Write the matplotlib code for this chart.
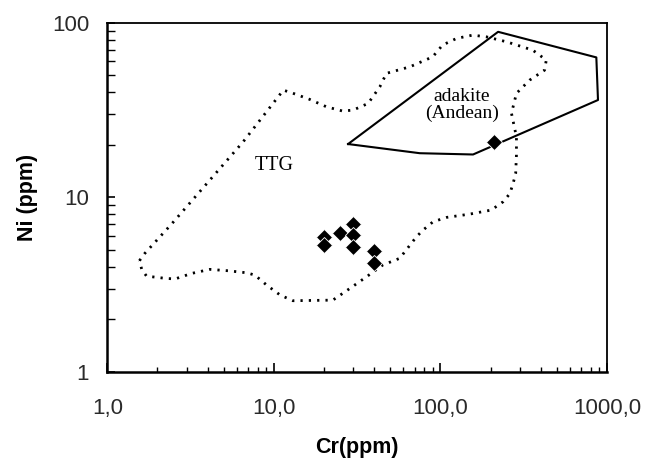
"""
Ni vs Cr discrimination diagram (TTG and Andean adakite fields).
"""

import matplotlib
matplotlib.use("Agg")
import matplotlib.pyplot as plt
import matplotlib.ticker as mticker

# -- Data --------------------------------------------------------------------
# TTG field outline (dotted), Cr / Ni in ppm
ttg_cr = [1.56, 1.68, 2.43, 6.54, 11.4, 12.8, 16.4, 20.7, 25.9, 29.9, 36.8,
          43.3, 47.4, 65.5, 89.9, 103, 125, 156, 189, 249, 358, 432, 422,
          343, 286, 267, 286, 286, 283, 273, 261, 238, 202, 150, 109, 90.3,
          78.7, 71.8, 57.0, 45.1, 36.0, 28.6, 22.6, 13.0, 10.9, 9.04, 7.69,
          6.86, 5.32, 4.13, 3.21, 2.55, 2.22, 1.72, 1.61, 1.56]
ttg_ni = [4.34, 4.78, 7.03, 20.8, 41.1, 39.7, 36.4, 33.0, 31.2, 31.6, 34.5,
          43.0, 51.3, 55.9, 63.8, 74.5, 81.3, 84.9, 83.0, 77.8, 69.7, 61.1,
          53.5, 46.9, 39.4, 30.3, 22.2, 17.5, 13.7, 12.0, 10.5, 9.44, 8.46,
          8.02, 7.68, 7.25, 6.50, 5.95, 4.48, 4.10, 3.51, 3.01, 2.58, 2.56,
          2.76, 3.15, 3.59, 3.70, 3.80, 3.87, 3.67, 3.41, 3.44, 3.54, 3.87,
          4.34]

# Andean adakite field outline (solid)
adk_cr = [27.9, 222, 863, 883, 157, 75.2, 27.9]
adk_ni = [20.2, 88.7, 63.3, 36.1, 17.6, 17.9, 20.2]

# Samples
sample_cr = [20, 20, 25, 30, 30, 30, 40, 40, 210]
sample_ni = [5.9, 5.33, 6.27, 7.03, 6.09, 5.22, 4.95, 4.22, 20.8]

x_ticks = [1, 10, 100, 1000]
x_tick_labels = ["1,0", "10,0", "100,0", "1000,0"]
y_ticks = [1, 10, 100]
y_tick_labels = ["1", "10", "100"]

# -- Plot --------------------------------------------------------------------
fig = plt.figure(figsize=(6.51, 4.59), dpi=100)
ax = fig.add_axes([0.1648, 0.1895, 0.7676, 0.761])

ax.plot(ttg_cr, ttg_ni, color="black", lw=2.0, linestyle=(0, (0.8, 2.2)),
        dash_capstyle="butt")
ax.plot(adk_cr, adk_ni, color="black", lw=1.5)
ax.plot(sample_cr, sample_ni, "D", ms=7.8, color="black", mec="white",
        mew=0.6, linestyle="none")

ax.text(10.1, 15.3, "TTG", family="Liberation Serif", fontsize=14.5,
        ha="center", va="center")
ax.text(134, 33.8, "adakite\n(Andean)", family="Liberation Serif",
        fontsize=14, ha="center", va="center", linespacing=1.05)

ax.set_xscale("log")
ax.set_yscale("log")
ax.set_xlim(1, 1000)
ax.set_ylim(1, 100)

ax.xaxis.set_major_locator(mticker.FixedLocator(x_ticks))
ax.xaxis.set_major_formatter(mticker.FixedFormatter(x_tick_labels))
ax.yaxis.set_major_locator(mticker.FixedLocator(y_ticks))
ax.yaxis.set_major_formatter(mticker.FixedFormatter(y_tick_labels))
ax.xaxis.set_minor_locator(mticker.LogLocator(base=10, subs=range(2, 10)))
ax.yaxis.set_minor_locator(mticker.LogLocator(base=10, subs=range(2, 10)))
ax.xaxis.set_minor_formatter(mticker.NullFormatter())
ax.yaxis.set_minor_formatter(mticker.NullFormatter())

ax.tick_params(axis="x", which="major", direction="in", length=6.5, width=1.2,
               pad=19, labelsize=16)
ax.tick_params(axis="x", which="minor", direction="in", length=3.5, width=1.0)
ax.tick_params(axis="y", which="major", direction="in", length=5.5, width=1.2,
               pad=13, labelsize=16)
ax.tick_params(axis="y", which="minor", direction="in", length=5.5, width=1.0)
for lab in ax.get_xticklabels() + ax.get_yticklabels():
    lab.set_family("Liberation Sans")
    lab.set_color("#2a2a2a")

for side in ["left", "bottom"]:
    ax.spines[side].set_linewidth(1.8)
for side in ["top", "right"]:
    ax.spines[side].set_linewidth(1.3)

ax.set_xlabel("Cr(ppm)", family="Liberation Sans", fontsize=15.5,
              fontweight="bold", labelpad=13)
ax.set_ylabel("Ni (ppm)", family="Liberation Sans", fontsize=15.5,
              fontweight="bold", labelpad=10)

fig.savefig("out.png", dpi=100, facecolor="white")
plt.close(fig)
